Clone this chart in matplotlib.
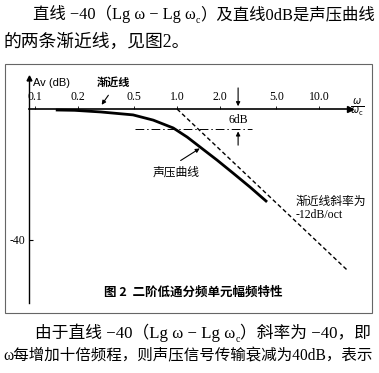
import matplotlib
matplotlib.use("Agg")
import matplotlib.pyplot as plt
from matplotlib.patches import Rectangle

# 数据：从图上读取
freq_ticks = [0.1, 0.2, 0.5, 1.0, 2.0, 5.0, 10.0]
freq_labels = ['0.1', '0.2', '0.5', '1.0', '2.0', '5.0', '10.0']
db_ticks = [-40]
db_labels = ['-40']

# 声压曲线 (ω/ωc, dB)
curve_w = [0.14, 0.19, 0.29, 0.49, 0.68, 0.94, 1.18, 1.45, 1.91, 2.48, 3.27, 4.3]
curve_db = [-0.3, -0.4, -0.9, -1.8, -3.4, -5.8, -8.6, -11.6, -15.6, -19.6, -23.9, -28.4]

# -40(Lg ω - Lg ωc) 渐近线
asym_w = [1.0, 16.0]
asym_db = [0, -49.5]

# -6dB 点划线
ref_w = [0.506, 3.37]
ref_db = [-6, -6]

W, H = 379, 373
serif = ['Liberation Serif', 'Noto Sans CJK SC']
cjk = ['Noto Sans CJK SC', 'DejaVu Sans']

fig = plt.figure(figsize=(W / 100, H / 100), dpi=100)
fig.patch.set_facecolor('white')


def px(x, y):
    return x / W, 1 - y / H


# 外框
fig.patches.append(Rectangle(px(5, 313), 367 / W, 249 / H, transform=fig.transFigure,
                             fill=False, edgecolor='#666666', lw=0.8))

ax = fig.add_axes([29 / W, 70 / H, 321 / W, 225 / H])
ax.set_xscale('log')
ax.set_xlim(0.0907, 16.5)
ax.set_ylim(-59.3, 9.48)
ax.patch.set_alpha(0)

for s in ['right', 'bottom']:
    ax.spines[s].set_visible(False)
ax.spines['top'].set_position(('data', 0))
ax.spines['top'].set_linewidth(1.2)
ax.spines['left'].set_linewidth(1.0)

ax.xaxis.set_ticks_position('top')
ax.set_xticks(freq_ticks)
ax.set_xticklabels(freq_labels, family=serif, fontsize=8.5)
ax.xaxis.set_minor_locator(matplotlib.ticker.NullLocator())
ax.tick_params(axis='x', direction='out', length=2.5, width=0.6, pad=1.5)
ax.set_yticks(db_ticks)
ax.set_yticklabels(db_labels, family=serif, fontsize=8.5)
ax.tick_params(axis='y', direction='in', length=3, width=0.8, pad=3)

# 坐标轴箭头
ax.plot(0, 1, marker='^', color='black', markersize=3.5, transform=ax.transAxes, clip_on=False)
ax.plot(1, 0, marker='>', color='black', markersize=4, transform=ax.get_yaxis_transform(), clip_on=False)

# 曲线
ax.plot(curve_w, curve_db, color='black', lw=2.0, solid_capstyle='butt')
ax.plot(asym_w, asym_db, color='black', lw=1.0, dashes=(3, 2))
ax.plot(ref_w, ref_db, color='black', lw=0.7, dashes=(9, 3, 1.5, 3))

# 6dB 标注
ax.annotate('', xy=(2.69, 0), xytext=(2.69, 7.3),
            arrowprops=dict(arrowstyle='-|>', color='black', lw=0.8, mutation_scale=6))
ax.annotate('', xy=(2.69, -6), xytext=(2.69, -11.9),
            arrowprops=dict(arrowstyle='-|>', color='black', lw=0.8, mutation_scale=6))
ax.text(2.69, -3.4, '6dB', family=serif, fontsize=8.5, ha='center', va='center')

ax.text(0.097, 8.0, 'Av (dB)', family=['Liberation Sans'], fontsize=8, ha='left', va='center')
ax.text(0.354, 8.3, '渐近线', family=cjk, fontsize=8, weight='bold', ha='center', va='center')
ax.annotate('', xy=(0.287, 0.6), xytext=(0.337, 4.9),
            arrowprops=dict(arrowstyle='-|>', color='black', lw=0.8, mutation_scale=6))

ax.text(0.98, -19.3, '声压曲线', family=cjk, fontsize=8.5, ha='center', va='center')
ax.annotate('', xy=(1.50, -11.6), xytext=(1.02, -16.2),
            arrowprops=dict(arrowstyle='-|>', color='black', lw=0.8, mutation_scale=6))

ax.text(6.79, -28.4, '渐近线斜率为', family=cjk, fontsize=8.5, ha='left', va='center')
ax.text(6.85, -32.4, '-12dB/oct', family=serif, fontsize=8.5, ha='left', va='center')

ax.text(18.5, 0.3, r'$\frac{\omega}{\omega_\mathrm{c}}$', fontsize=10, ha='center', va='center')

# 图题
fig.text(*px(193, 292), '图 2  二阶低通分频单元幅频特性', family=cjk, fontsize=9,
         weight='bold', ha='center', va='center')

# 正文
renderer = fig.canvas.get_renderer()


def chain(x0, y, parts, size, x1=None):
    """依次排放文字片段，x1 给出时按宽度缩放字号"""
    def place(sz):
        objs = []
        x = x0
        for txt, scale, dy in parts:
            t = fig.text(*px(x, y + dy), txt, family=serif, fontsize=sz * scale,
                         ha='left', va='baseline')
            objs.append(t)
            bb = t.get_window_extent(renderer)
            x = bb.x1
        return objs, x

    objs, xe = place(size)
    if x1 is not None:
        for t in objs:
            t.remove()
        size = size * (x1 - x0) / (xe - x0)
        objs, xe = place(size)


chain(33, 19, [('直线 −40（Lg ω − Lg ω', 1, 0), ('c', 0.6, 4), ('）及直线0dB是声压曲线', 1, 0)],
      11.5, 375)
chain(3, 47, [('的两条渐近线，见图2。', 1, 0)], 11.5, 190)
chain(35, 338, [('由于直线 −40（Lg ω − Lg ω', 1, 0), ('c', 0.6, 4), ('）斜率为 −40，即', 1, 0)],
      11.5, 370)
chain(3, 360, [('ω每增加十倍频程，则声压信号传输衰减为40dB，表示', 1, 0)], 11.5, 373)

fig.savefig('out.png', dpi=100)
